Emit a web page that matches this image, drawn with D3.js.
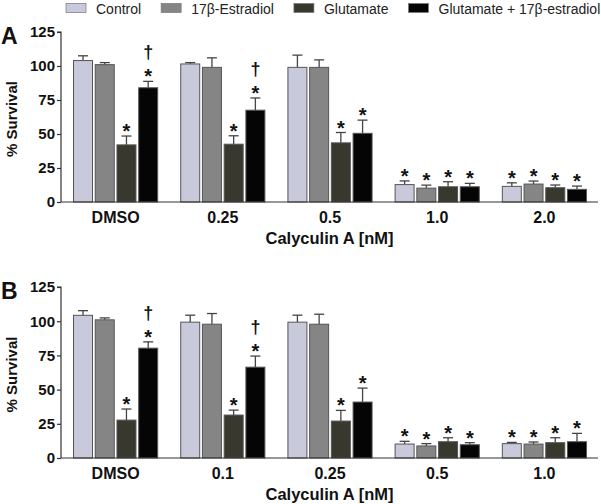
<!DOCTYPE html>
<html><head><meta charset="utf-8">
<script src="https://cdn.jsdelivr.net/npm/d3@7"></script>
<style>body{margin:0;background:#fff}svg{display:block}text{font-family:Arial,"Liberation Sans",Helvetica,sans-serif}</style>
</head><body><svg id="c" width="601" height="504"></svg>
<script>
// ---- data ----
const series = ["Control", "17β-Estradiol", "Glutamate", "Glutamate + 17β-estradiol"];
const colors = ["#c8c9da", "#858585", "#38382e", "#050505"];
const yTicks = [0, 25, 50, 75, 100, 125];
const xTitle = "Calyculin A [nM]";
const yTitle = "% Survival";

const catsA = ["DMSO", "0.25", "0.5", "1.0", "2.0"];
const meanA = [
  [104, 101, 42, 84],
  [101.5, 99, 42.5, 67.5],
  [99, 99, 43.5, 50.5],
  [12.8, 10.2, 11.2, 11.2],
  [11.5, 13.2, 10.5, 9.3]
];
const errA = [
  [3.5, 1.5, 6.5, 4.7],
  [1, 7, 6.2, 9],
  [9, 5.5, 7.6, 9.7],
  [2.7, 2.2, 3.7, 2.5],
  [2.6, 2.2, 2, 2.4]
];
const starA = [[0,0,1,1],[0,0,1,1],[0,0,1,1],[1,1,1,1],[1,1,1,1]];
const daggerA = [[0,0,0,1],[0,0,0,1],[0,0,0,0],[0,0,0,0],[0,0,0,0]];

const catsB = ["DMSO", "0.1", "0.25", "0.5", "1.0"];
const meanB = [
  [104.3, 101, 27.7, 80.3],
  [99.3, 97.8, 31.4, 66.4],
  [99.3, 97.8, 27, 40.9],
  [10.2, 8.8, 11.9, 9.7],
  [10.5, 10.2, 11.2, 11.9]
];
const errB = [
  [3.4, 1.4, 8.1, 4.6],
  [5.1, 7.8, 3.6, 8.1],
  [5.1, 7.3, 7.8, 10.2],
  [2, 1.7, 2.9, 1.5],
  [0.9, 1.5, 3.6, 6.1]
];
const starB = [[0,0,1,1],[0,0,1,1],[0,0,1,1],[1,1,1,1],[1,1,1,1]];
const daggerB = [[0,0,0,1],[0,0,0,1],[0,0,0,0],[0,0,0,0],[0,0,0,0]];

// ---- drawing ----
const svg = d3.select("#c");
const FONT = 'Arial, "Liberation Sans", Helvetica, sans-serif';

// legend
(function legend(){
  let x = 66;
  series.forEach((s, i) => {
    const g = svg.append("g");
    g.append("rect").attr("x", x).attr("y", 3.5).attr("width", 20).attr("height", 9)
      .attr("fill", colors[i]).attr("stroke", "#777").attr("stroke-width", 0.7);
    const t = g.append("text").attr("x", x + 30).attr("y", 13.5)
      .attr("font-size", 14).attr("fill", "#222").text(s);
    const w = t.node().getComputedTextLength();
    x += 30 + w + 20;
  });
})();

function panel(letter, cats, means, errs, stars, daggers, yTop, yBot) {
  const axisX = 61, axisRight = 598;
  const y = d3.scaleLinear().domain([0, 125]).range([yBot, yTop]);
  const pi = 22 / 107;
  const x0 = d3.scaleBand().domain(cats).range([62, 598]).paddingInner(pi).paddingOuter(pi / 2);
  const x1 = d3.scaleBand().domain(d3.range(series.length)).range([0, x0.bandwidth()]).paddingInner(0.08);

  const g = svg.append("g");

  // y axis
  const yAxis = d3.axisLeft(y).tickValues(yTicks).tickSize(4).tickPadding(2);
  const ya = g.append("g").attr("transform", `translate(${axisX},0)`).call(yAxis);
  ya.select(".domain").attr("stroke", "#333").attr("stroke-width", 1.2).attr("d", `M-4,${y(125)}H0V${y(0)}`);
  ya.selectAll(".tick line").attr("stroke", "#333").attr("stroke-width", 1.2);
  ya.selectAll(".tick text").attr("font-size", 15).attr("font-weight", "bold")
    .attr("font-family", FONT).attr("fill", "#111");

  // bars
  cats.forEach((c, ci) => {
    const gg = g.append("g").attr("transform", `translate(${x0(c)},0)`);
    series.forEach((s, si) => {
      const v = means[ci][si], e = errs[ci][si];
      const bx = x1(si), bw = x1.bandwidth(), cx = bx + bw / 2;
      // error bar (upper)
      gg.append("line").attr("x1", cx).attr("x2", cx).attr("y1", y(v)).attr("y2", y(v + e))
        .attr("stroke", "#444").attr("stroke-width", 1.3);
      gg.append("line").attr("x1", cx - 5).attr("x2", cx + 5).attr("y1", y(v + e)).attr("y2", y(v + e))
        .attr("stroke", "#444").attr("stroke-width", 1.3);
      gg.append("rect").attr("x", bx + 0.5).attr("y", y(v)).attr("width", bw - 1).attr("height", y(0) - y(v))
        .attr("fill", colors[si]).attr("stroke", "#555").attr("stroke-width", 1);
      if (stars[ci][si]) {
        gg.append("text").attr("x", cx).attr("y", y(v + e) + 2).attr("text-anchor", "middle")
          .attr("font-size", 20).attr("font-weight", "bold").attr("fill", "#111").text("*");
        if (daggers[ci][si]) {
          gg.append("text").attr("x", cx).attr("y", y(v + e) - 23).attr("text-anchor", "middle")
            .attr("font-size", 18).attr("font-weight", "bold").attr("fill", "#111").text("†");
        }
      }
    });
  });

  // x axis
  const xAxis = d3.axisBottom(x0).tickSize(0).tickPadding(10);
  const xa = g.append("g").attr("transform", `translate(0,${y(0)})`).call(xAxis);
  xa.select(".domain").attr("stroke", "#333").attr("stroke-width", 1.2).attr("d", `M${axisX},0H${axisRight}`);
  xa.selectAll(".tick text").attr("font-size", 16).attr("font-weight", "bold")
    .attr("font-family", FONT).attr("fill", "#111");

  // titles
  g.append("text").attr("x", (axisX + axisRight) / 2).attr("y", y(0) + 42).attr("text-anchor", "middle")
    .attr("font-size", 16.5).attr("font-weight", "bold").attr("fill", "#111").text(xTitle);
  g.append("text").attr("transform", `translate(17,${(y(0) + y(125)) / 2 + 2}) rotate(-90)`)
    .attr("text-anchor", "middle").attr("font-size", 15).attr("font-weight", "bold").attr("fill", "#111").text(yTitle);
  g.append("text").attr("x", 1).attr("y", y(125) + 12).attr("font-size", 23).attr("font-weight", "bold")
    .attr("fill", "#111").text(letter);
}

panel("A", catsA, meanA, errA, starA, daggerA, 32, 202);
panel("B", catsB, meanB, errB, starB, daggerB, 287, 458);
</script></body></html>
